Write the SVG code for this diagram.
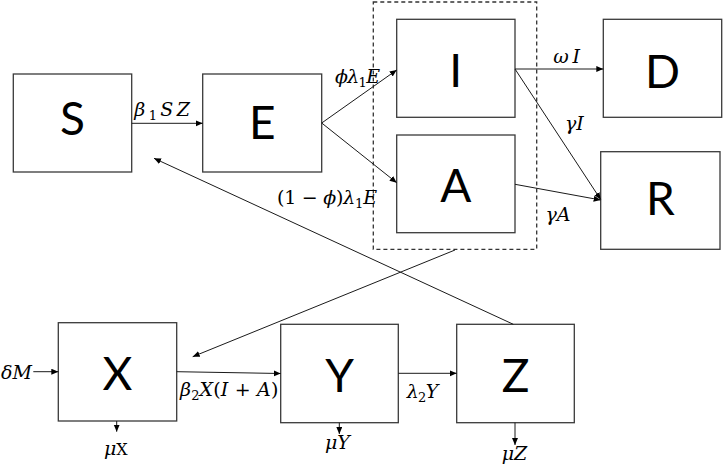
<svg xmlns="http://www.w3.org/2000/svg" width="724" height="465" viewBox="0 0 724 465">
<style>
.box{fill:#fff;stroke:#3a3a3a;stroke-width:1.3}
.big{font-family:Lato,"Liberation Sans",Arial,sans-serif;font-size:46px;fill:#000;text-anchor:middle}
.ln{fill:none;stroke:#1a1a1a;stroke-width:1}
.m{font-family:"DejaVu Serif","Liberation Serif",serif;font-size:19px;font-style:italic;fill:#000}
.u{font-style:normal}
.sub{font-size:13px;font-style:normal}
.dash{fill:none;stroke:#333;stroke-width:1.3;stroke-dasharray:4 3}
</style>
<defs>
<marker id="ah" markerUnits="userSpaceOnUse" markerWidth="8" markerHeight="8" refX="7" refY="3" orient="auto">
<path d="M0,0 L7,3 L0,6 z" fill="#000"/>
</marker>
</defs>
<rect width="724" height="465" fill="#fff"/>
<rect class="dash" x="373.3" y="2" width="163.4" height="247.3"/>
<g id="node-S"><rect class="box" x="13.3" y="74" width="118.4" height="98"/><text class="big" x="72.5" y="135">S</text></g>
<g id="node-E"><rect class="box" x="202.7" y="74" width="119" height="98"/><text class="big" x="262.2" y="139">E</text></g>
<g id="node-I"><rect class="box" x="396.7" y="19.3" width="118.3" height="98"/><text class="big" x="455.8" y="87">I</text></g>
<g id="node-A"><rect class="box" x="396.7" y="135" width="118.3" height="97.7"/><text class="big" x="455.8" y="202">A</text></g>
<g id="node-D"><rect class="box" x="603.3" y="19.3" width="118.4" height="98"/><text class="big" x="662.5" y="88">D</text></g>
<g id="node-R"><rect class="box" x="600.7" y="151.7" width="119.3" height="97.6"/><text class="big" x="660.3" y="215">R</text></g>
<g id="node-X"><rect class="box" x="58.3" y="322.7" width="118.4" height="98.3"/><text class="big" x="117.5" y="390">X</text></g>
<g id="node-Y"><rect class="box" x="280.7" y="324.3" width="117.6" height="98.4"/><text class="big" x="339.5" y="391.5">Y</text></g>
<g id="node-Z"><rect class="box" x="456.7" y="324.3" width="117.6" height="98.4"/><text class="big" x="515.5" y="391.5">Z</text></g>
<g id="connectors">
<line class="ln" x1="131.7" y1="123.3" x2="202.7" y2="123.3" marker-end="url(#ah)"/>
<line class="ln" x1="321.7" y1="123" x2="396.7" y2="70" marker-end="url(#ah)"/>
<line class="ln" x1="321.7" y1="123" x2="396.7" y2="182.7" marker-end="url(#ah)"/>
<line class="ln" x1="515" y1="69" x2="603.3" y2="69" marker-end="url(#ah)"/>
<line class="ln" x1="515" y1="69" x2="600.7" y2="199.5" marker-end="url(#ah)"/>
<line class="ln" x1="515" y1="184.3" x2="600.7" y2="200" marker-end="url(#ah)"/>
<line class="ln" x1="513.3" y1="324.3" x2="154" y2="158.3" marker-end="url(#ah)"/>
<line class="ln" x1="455" y1="250" x2="192.7" y2="356.7" marker-end="url(#ah)"/>
<line class="ln" x1="33.3" y1="371.7" x2="58.3" y2="371.7" marker-end="url(#ah)"/>
<line class="ln" x1="176.7" y1="371.7" x2="280.7" y2="373.5" marker-end="url(#ah)"/>
<line class="ln" x1="398.3" y1="373.3" x2="456.7" y2="373.3" marker-end="url(#ah)"/>
<line class="ln" x1="116.7" y1="421" x2="116.7" y2="431.7" marker-end="url(#ah)"/>
<line class="ln" x1="339.3" y1="422.7" x2="339.3" y2="434" marker-end="url(#ah)"/>
<line class="ln" x1="515" y1="422.7" x2="515" y2="445" marker-end="url(#ah)"/>
</g>
<g id="labels">
<text class="m" x="134.3" y="116" textLength="55.7" lengthAdjust="spacing">β<tspan class="sub" dy="4">1</tspan><tspan dy="-4">SZ</tspan></text>
<text class="m" x="335" y="83.3" textLength="45" lengthAdjust="spacing">ϕλ<tspan class="sub" dy="4">1</tspan><tspan dy="-4">E</tspan></text>
<text class="m" x="277" y="204" textLength="100" lengthAdjust="spacing"><tspan class="u">(1 − </tspan>ϕ<tspan class="u">)</tspan>λ<tspan class="sub" dy="4">1</tspan><tspan dy="-4">E</tspan></text>
<text class="m" x="553.3" y="63.3" textLength="26.7" lengthAdjust="spacing">ωI</text>
<text class="m" x="565" y="130">γI</text>
<text class="m" x="545.5" y="221">γA</text>
<text class="m" x="1" y="379">δM</text>
<text class="m" x="180" y="396" textLength="98.3" lengthAdjust="spacing">β<tspan class="sub" dy="4">2</tspan><tspan dy="-4">X</tspan><tspan class="u">(</tspan>I<tspan class="u"> + </tspan>A<tspan class="u">)</tspan></text>
<text class="m" x="406.7" y="398" textLength="31.6" lengthAdjust="spacing">λ<tspan class="sub" dy="4">2</tspan><tspan dy="-4">Y</tspan></text>
<text class="m" x="104" y="455">μ<tspan class="u" font-size="16">X</tspan></text>
<text class="m" x="325" y="449.3">μY</text>
<text class="m" x="501.7" y="460">μZ</text>
</g>
</svg>
